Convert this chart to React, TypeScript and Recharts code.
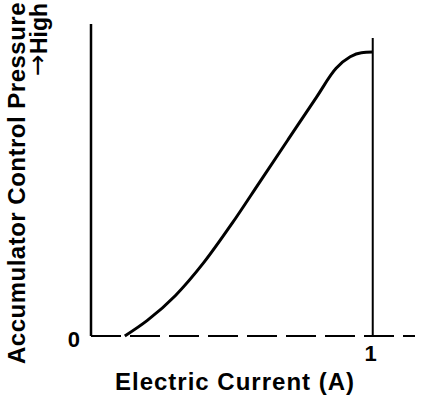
import { LineChart, Line, XAxis, YAxis, ReferenceLine, Label } from 'recharts';

// pressure curve (current in A, pressure normalised 0..1)
const currentA = [0.12, 0.2, 0.3, 0.4, 0.5, 0.6, 0.7, 0.8, 0.87, 0.92, 0.96, 1.0];
const pressure = [0, 0.05, 0.13, 0.235, 0.36, 0.495, 0.63, 0.765, 0.858, 0.895, 0.908, 0.91];

const xTicks = [1];
const yTicks = [0];
const limitCurrent = 1;
const limitTop = 0.955;

const xTitle = 'Electric Current (A)';
const yTitle = 'Accumulator Control Pressure';
const yArrow = '\u2192';
const yNote = 'High';

const data = currentA.map((c, i) => ({ current: c, pressure: pressure[i] }));

const FONT = '"Liberation Sans", Arial, sans-serif';

export default function App() {
  return (
    <div style={{ position: 'absolute', left: 0, top: 0, background: '#fff' }}>
      <LineChart
        width={432}
        height={398}
        data={data}
        margin={{ top: 24, right: 17, bottom: 0, left: 0 }}
      >
        <XAxis
          type="number"
          dataKey="current"
          domain={[0, 1.15]}
          ticks={xTicks}
          height={62}
          tickLine={false}
          tickSize={0}
          tickMargin={9}
          axisLine={{ stroke: '#000', strokeWidth: 2, strokeDasharray: '30 9' }}
          tick={{ fill: '#000', fontSize: 22, fontWeight: 700, fontFamily: FONT, dx: -2 }}
        >
          <Label
            content={({ viewBox }: any) => (
              <text
                x={viewBox.x + viewBox.width / 2 - 18}
                y={390}
                textAnchor="middle"
                fill="#000"
                fontSize={24}
                fontWeight={700}
                fontFamily={FONT}
                letterSpacing={1}
              >
                {xTitle}
              </text>
            )}
          />
        </XAxis>
        <YAxis
          type="number"
          domain={[0, 1]}
          ticks={yTicks}
          width={91}
          tickLine={false}
          tickSize={0}
          tickMargin={11}
          axisLine={{ stroke: '#000', strokeWidth: 2.5 }}
          tick={{ fill: '#000', fontSize: 22, fontWeight: 700, fontFamily: FONT, dy: 3 }}
        >
          <Label
            content={() => (
              <g fill="#000" fontWeight={700} fontFamily={FONT}>
                <text
                  x={25}
                  y={183}
                  transform="rotate(-90 25 183)"
                  textAnchor="middle"
                  fontSize={24}
                  letterSpacing={0.5}
                >
                  {yTitle}
                </text>
                <text
                  x={47}
                  y={3}
                  transform="rotate(-90 47 3)"
                  textAnchor="end"
                  fontSize={23}
                >
                  <tspan fontFamily="DejaVu Sans" fontWeight={400} fontSize={26} dy={-1}>
                    {yArrow}
                  </tspan>
                  <tspan dy={1}>{yNote}</tspan>
                </text>
              </g>
            )}
          />
        </YAxis>
        <ReferenceLine
          segment={[
            { x: limitCurrent, y: 0 },
            { x: limitCurrent, y: limitTop },
          ]}
          stroke="#000"
          strokeWidth={2}
        />
        <Line
          type="monotone"
          dataKey="pressure"
          stroke="#000"
          strokeWidth={3}
          dot={false}
          isAnimationActive={false}
        />
      </LineChart>
    </div>
  );
}
